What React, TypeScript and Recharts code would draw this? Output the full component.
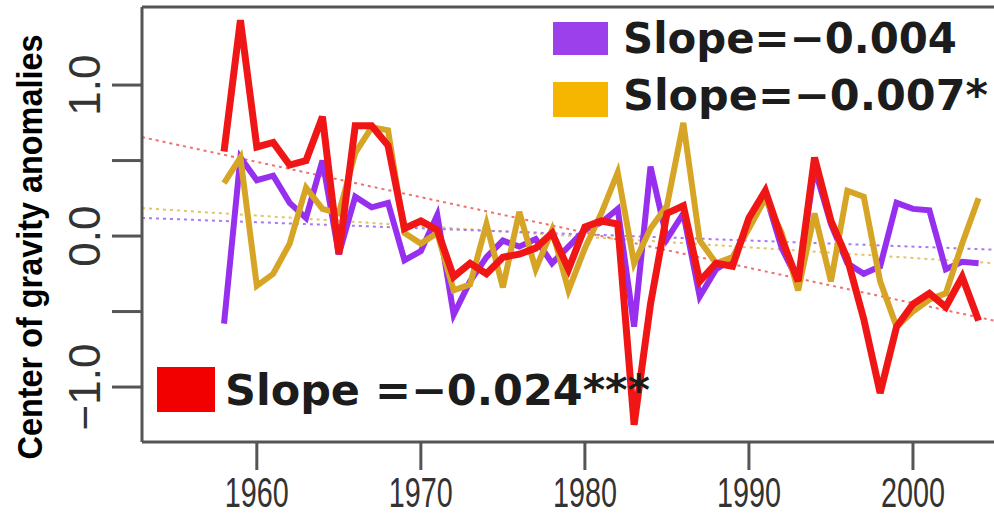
import { LineChart, Line, XAxis, YAxis, ReferenceLine } from 'recharts'

const AXIS = '#555555'
const TEXT = '#1c1c1c'
const PURPLE = '#9630EE'
const GOLD = '#D6A526'
const RED = '#F01616'

const years = Array.from({ length: 47 }, (_, i) => 1958 + i)

const purpleVals = [
  -0.58, 0.52, 0.37, 0.4, 0.22, 0.12, 0.5, -0.12, 0.26, 0.19,
  0.22, -0.16, -0.1, 0.14, -0.52, -0.3, -0.14, -0.03, -0.07, -0.02,
  -0.18, -0.07, 0.04, 0.09, 0.18, -0.6, 0.46, -0.02, 0.15, -0.4,
  -0.22, -0.15, 0.08, 0.28, -0.08, -0.3, 0.45, 0.08, -0.18, -0.25,
  -0.2, 0.22, 0.18, 0.17, -0.22, -0.17, -0.18,
]
const goldVals = [
  0.35, 0.52, -0.33, -0.25, -0.05, 0.32, 0.18, 0.15, 0.55, 0.72,
  0.7, 0.02, -0.05, 0.02, -0.36, -0.32, 0.08, -0.34, 0.16, -0.22,
  0.04, -0.36, -0.08, 0.15, 0.42, -0.18, 0.05, 0.2, 0.75, -0.03,
  -0.18, -0.14, 0.05, 0.25, 0.02, -0.36, 0.15, -0.3, 0.3, 0.26,
  -0.3, -0.6, -0.5, -0.42, -0.38, -0.05, 0.25,
]
const redVals = [
  0.56, 1.43, 0.59, 0.62, 0.47, 0.5, 0.79, -0.12, 0.73, 0.73,
  0.6, 0.05, 0.1, 0.04, -0.27, -0.18, -0.25, -0.14, -0.12, -0.08,
  0.02, -0.22, 0.06, 0.1, 0.08, -1.25, -0.45, 0.15, 0.2, -0.3,
  -0.18, -0.2, 0.12, 0.3, -0.02, -0.3, 0.52, 0.1, -0.15, -0.55,
  -1.04, -0.6, -0.45, -0.38, -0.47, -0.27, -0.56,
]

// fitted trend lines, read at the two plot edges
const trendX = [1953, 2004.94]
const purpleTrend = [0.12, -0.09]
const goldTrend = [0.185, -0.18]
const redTrend = [0.655, -0.56]

const xTicks = [1960, 1970, 1980, 1990, 2000]
const yTicks = [-1, -0.5, 0, 0.5, 1]
const yLabels: Record<string, string> = { '-1': '\u22121.0', '0': '0.0', '1': '1.0' }

const rows = years.map((year, i) => ({
  year,
  purple: purpleVals[i],
  gold: goldVals[i],
  red: redVals[i],
}))

const seg = (vals: number[]) => [
  { x: trendX[0], y: vals[0] },
  { x: trendX[1], y: vals[1] },
]

function XTick(p: any) {
  return (
    <text
      x={p.x}
      y={507}
      textAnchor="middle"
      fontFamily="Liberation Sans"
      fontSize={42}
      fill="#333"
      textLength={64}
      lengthAdjust="spacingAndGlyphs"
    >
      {p.payload.value}
    </text>
  )
}

function YTick(p: any) {
  const label = yLabels[String(p.payload.value)]
  if (!label) return <g />
  return (
    <text
      x={100}
      y={p.y}
      transform={`rotate(-90, 100, ${p.y})`}
      textAnchor="middle"
      fontFamily="Liberation Sans"
      fontSize={44}
      fill="#333"
    >
      {label}
    </text>
  )
}

const legendFont = { fontFamily: 'DejaVu Sans', fontWeight: 700, fontSize: 42, fill: TEXT }

export default function App() {
  return (
    <div style={{ position: 'absolute', left: 0, top: 0, width: 994, height: 519, background: '#fff', overflow: 'hidden' }}>
      <LineChart width={994} height={519} data={rows} margin={{ top: 7, right: 0, bottom: 0, left: 0 }}>
        <XAxis
          dataKey="year"
          type="number"
          domain={[1953, 2004.94]}
          ticks={xTicks}
          height={77}
          tickSize={28}
          tick={XTick}
          axisLine={{ stroke: AXIS, strokeWidth: 3 }}
          tickLine={{ stroke: AXIS, strokeWidth: 3 }}
        />
        <YAxis
          type="number"
          domain={[-1.364, 1.517]}
          ticks={yTicks}
          width={142}
          tickSize={30}
          tick={YTick}
          axisLine={{ stroke: AXIS, strokeWidth: 3 }}
          tickLine={{ stroke: AXIS, strokeWidth: 3 }}
        />
        <ReferenceLine y={1.517} stroke={AXIS} strokeWidth={3} />
        <ReferenceLine segment={seg(redTrend)} stroke="#F07070" strokeWidth={2} strokeDasharray="3 4" />
        <ReferenceLine segment={seg(goldTrend)} stroke="#E2C46A" strokeWidth={2} strokeDasharray="3 4" />
        <ReferenceLine segment={seg(purpleTrend)} stroke="#A87AF0" strokeWidth={2} strokeDasharray="3 4" />
        <Line dataKey="purple" stroke={PURPLE} strokeWidth={6} dot={false} isAnimationActive={false} />
        <Line dataKey="gold" stroke={GOLD} strokeWidth={6} dot={false} isAnimationActive={false} />
        <Line dataKey="red" stroke={RED} strokeWidth={7} dot={false} isAnimationActive={false} />
      </LineChart>
      <svg width={994} height={519} style={{ position: 'absolute', left: 0, top: 0, pointerEvents: 'none' }}>
        <text
          x={42}
          y={247}
          transform="rotate(-90, 42, 247)"
          textAnchor="middle"
          fontFamily="Liberation Sans"
          fontWeight={700}
          fontSize={35}
          fill="#000"
          textLength={425}
          lengthAdjust="spacingAndGlyphs"
        >
          Center of gravity anomalies
        </text>
        <rect x={553} y={22} width={55} height={33} fill="#9B40EA" />
        <text x={623} y={53} {...legendFont} textLength={334} lengthAdjust="spacingAndGlyphs">
          Slope=−0.004
        </text>
        <rect x={553} y={82} width={55} height={35} fill="#F6B600" />
        <text x={623} y={110} {...legendFont} textLength={365} lengthAdjust="spacingAndGlyphs">
          Slope=−0.007*
        </text>
        <rect x={157} y={367} width={58} height={45} fill="#F20000" />
        <text x={225} y={405} {...legendFont} textLength={425} lengthAdjust="spacingAndGlyphs">
          Slope =−0.024***
        </text>
      </svg>
    </div>
  )
}
